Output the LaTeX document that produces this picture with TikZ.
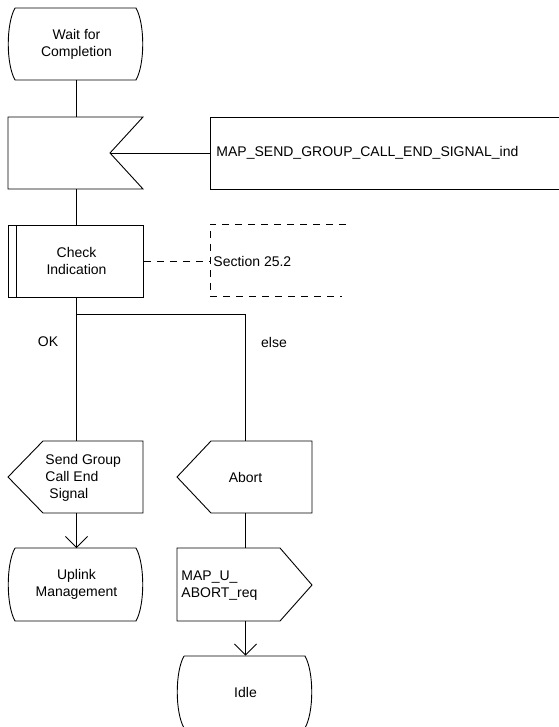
\documentclass[tikz,border=0pt]{standalone}
\usepackage{fontspec}
\setmainfont{Liberation Sans}
\usetikzlibrary{arrows.meta}
\begin{document}
\begin{tikzpicture}[x=1pt,y=-1pt, line width=0.9pt,
  box/.style={minimum width=135pt, minimum height=72pt, inner sep=0pt,
              font=\fontsize{14}{17}\selectfont, align=center},
  lbl/.style={inner sep=0pt, font=\fontsize{14}{17}\selectfont},
  arr/.style={-{Straight Barb[length=11pt,width=22pt]}},
  cmt/.style={dash pattern=on 7pt off 6pt}]
\useasboundingbox (0,0) rectangle (558,727);

% Wait for Completion (state)
\node[box] (wait) at (76.5,44) {Wait for\\Completion};
\draw (15,8) -- (136,8) .. controls (145,24) and (145,64) .. (136,80)
      -- (15,80) .. controls (6,64) and (6,24) .. (15,8);

% input signal
\node[box] (input) at (76.5,153) {};
\draw (8,117) -- (143,117) -- (110,153) -- (143,189) -- (8,189) -- cycle;
\coordinate (notch) at (110,153);
\draw (wait.south) -- (input.north);

% message box
\node[draw, anchor=west, minimum height=72pt, text width=358pt, inner xsep=6pt,
      inner ysep=0pt, align=left, font=\fontsize{14}{17}\selectfont]
      (mapbox) at (210,153) {MAP\_SEND\_GROUP\_CALL\_END\_SIGNAL\_ind};
\draw (notch) -- (mapbox.west);

% Check Indication (procedure call)
\node[box] (check) at (76.5,261) {Check\\Indication};
\draw (8,225) rectangle (143,297);
\draw (16,225) -- (16,297);
\draw (input.south) -- (check.north);

% comment
\coordinate (cm) at (210,261);
\node[lbl, anchor=west] (sect) at (213,261) {Section 25.2};
\draw[cmt] (346,224) -- (210,224) -- (210,296) -- (342,296);
\draw[cmt] (check.east) -- (cm);

% nodes of the lower part
\node[box] (send) at (76.5,477) {};
\node[box] (abrt) at (245.5,477) {Abort};
\node[box] (uabrt) at (245.5,584.5) {};
\node[box] (uplink) at (76.5,584.5) {Uplink\\Management};
\node[box] (idle) at (245.5,692) {Idle};
\coordinate (brl) at (76.5,314);
\coordinate (brr) at (245.5,314);

% connectors
\draw (check.south) -- (send.north);
\draw (brl) -- (brr) -- (abrt.north);
\draw[arr] (send.south) -- (uplink.north);
\draw[arr] (uabrt.south) -- (idle.north);
\node[lbl] (ok) at (48,342) {OK};
\node[lbl] (else) at (274,342) {else};

% Send Group Call End Signal (output, pointing left)
\draw (8,477) -- (43,441) -- (143,441) -- (143,513) -- (43,513) -- cycle;
\node[lbl, anchor=west, align=left] (sendtxt) at (45,478)
      {Send Group\\Call End\\\hspace*{4pt}Signal};

% Abort (output, pointing left)
\draw (177,477) -- (211,441) -- (312,441) -- (312,513) -- (211,513) -- cycle;

% Uplink Management (state)
\draw (15,548) -- (136,548) .. controls (145,564) and (145,605) .. (136,621)
      -- (15,621) .. controls (6,605) and (6,564) .. (15,548);

% MAP_U_ABORT_req (output, pointing right)
\draw (177,548) -- (280,548) -- (312,585) -- (280,621) -- (177,621) -- cycle;
\node[lbl, anchor=west, align=left] (uabtxt) at (181,586) {MAP\_U\_\\ABORT\_req};

% Idle (state)
\draw (184,656) -- (305,656) .. controls (314,672) and (314,712) .. (305,728)
      -- (184,728) .. controls (175,712) and (175,672) .. (184,656);

% Abort -> MAP_U_ABORT_req
\draw[black] (abrt.south) -- (uabrt.north);
\end{tikzpicture}
\end{document}
